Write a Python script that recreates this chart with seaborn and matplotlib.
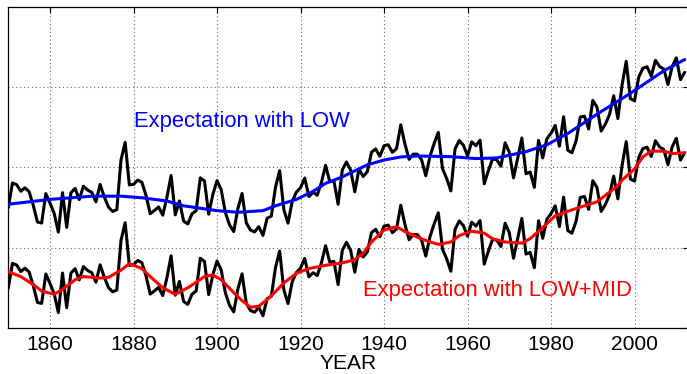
import numpy as np
import pandas as pd
import matplotlib
matplotlib.use("Agg")
import matplotlib.pyplot as plt
import seaborn as sns

# Annual global temperature anomaly, 1850-2012 (deg C)
years = np.arange(1850, 2013)
anomaly = [
    -0.373, -0.218, -0.228, -0.269, -0.248, -0.272, -0.358, -0.461, -0.467, -0.284,  # 1850s
    -0.343, -0.407, -0.524, -0.278, -0.494, -0.279, -0.251, -0.321, -0.238, -0.262,  # 1860s
    -0.276, -0.335, -0.227, -0.304, -0.368, -0.395, -0.384, -0.075, 0.035, -0.230,   # 1870s
    -0.227, -0.200, -0.213, -0.296, -0.409, -0.389, -0.367, -0.418, -0.307, -0.171,  # 1880s
    -0.416, -0.330, -0.455, -0.473, -0.410, -0.390, -0.186, -0.206, -0.412, -0.289,  # 1890s
    -0.203, -0.259, -0.402, -0.479, -0.520, -0.377, -0.283, -0.465, -0.511, -0.522,  # 1900s
    -0.490, -0.544, -0.437, -0.424, -0.244, -0.141, -0.383, -0.468, -0.333, -0.275,  # 1910s
    -0.247, -0.187, -0.302, -0.276, -0.294, -0.215, -0.108, -0.210, -0.206, -0.350,  # 1920s
    -0.137, -0.087, -0.137, -0.273, -0.131, -0.178, -0.147, -0.026, -0.006, -0.052,  # 1930s
    0.014, 0.020, -0.027, -0.004, 0.144, 0.025, -0.071, -0.038, -0.039, -0.074,      # 1940s
    -0.173, -0.052, 0.028, 0.097, -0.129, -0.190, -0.267, -0.007, 0.046, 0.017,      # 1950s
    -0.049, 0.038, 0.014, 0.048, -0.223, -0.140, -0.068, -0.074, -0.113, 0.032,      # 1960s
    -0.027, -0.186, -0.065, 0.062, -0.160, -0.150, -0.245, 0.047, -0.062, 0.057,     # 1970s
    0.092, 0.140, 0.011, 0.194, -0.014, -0.030, 0.045, 0.192, 0.198, 0.118,          # 1980s
    0.296, 0.254, 0.105, 0.148, 0.208, 0.325, 0.183, 0.390, 0.539, 0.306,            # 1990s
    0.294, 0.441, 0.496, 0.505, 0.447, 0.545, 0.506, 0.491, 0.395, 0.506,            # 2000s
    0.560, 0.425, 0.470,                                                             # 2010-2012
]

# Expected curve from the low-frequency component
low_years = [1850, 1855, 1860, 1865, 1870, 1877, 1882, 1888, 1892, 1896, 1900,
             1905, 1911, 1914, 1919, 1923, 1926, 1930, 1936, 1940, 1944, 1948,
             1956, 1962, 1967, 1974, 1979, 1984, 1991, 1999, 2007, 2012]
low_fit = [-0.35, -0.335, -0.32, -0.31, -0.30, -0.30, -0.31, -0.33, -0.36, -0.375, -0.39,
           -0.40, -0.39, -0.36, -0.32, -0.27, -0.22, -0.18, -0.105, -0.075, -0.056, -0.05,
           -0.054, -0.066, -0.062, -0.023, 0.02, 0.09, 0.21, 0.34, 0.48, 0.55]

# Expected curve from the low + mid frequency components
lowmid_years = [1850, 1853, 1856, 1858, 1861, 1863, 1866, 1868, 1872, 1874, 1877,
                1879, 1882, 1884, 1887, 1890, 1893, 1897, 1899, 1901, 1904, 1906,
                1908, 1910, 1913, 1916, 1919, 1922, 1926, 1930, 1933, 1935, 1937,
                1940, 1943, 1945, 1948, 1951, 1953, 1956, 1958, 1961, 1964, 1966,
                1969, 1973, 1975, 1978, 1981, 1985, 1988, 1991, 1993, 1996, 1997,
                2000, 2002, 2004, 2007, 2009, 2012]
lowmid_fit = [-0.27, -0.30, -0.35, -0.39, -0.41, -0.38, -0.32, -0.30, -0.31, -0.305, -0.26,
              -0.22, -0.25, -0.30, -0.37, -0.41, -0.37, -0.30, -0.29, -0.32, -0.40, -0.45,
              -0.49, -0.485, -0.42, -0.34, -0.28, -0.25, -0.23, -0.215, -0.195, -0.155, -0.085,
              -0.01, 0.01, -0.02, -0.055, -0.085, -0.10, -0.085, -0.045, -0.018, -0.03, -0.065,
              -0.085, -0.092, -0.064, 0.005, 0.078, 0.115, 0.14, 0.165, 0.205, 0.265, 0.30,
              0.37, 0.445, 0.48, 0.48, 0.465, 0.47]

# Vertical offsets that stack the two panels on one axis
upper_shift = 0.12
lower_shift = -0.38

x_ticks = [1860, 1880, 1900, 1920, 1940, 1960, 1980, 2000]
y_ticks = [-1.0, -0.5, 0.0, 0.5, 1.0]

sns.set_style("white")
plt.rcParams["font.family"] = ["Liberation Sans", "DejaVu Sans"]
plt.rcParams["text.color"] = "black"
plt.rcParams["axes.labelcolor"] = "black"
plt.rcParams["xtick.color"] = "black"
plt.rcParams["ytick.color"] = "black"

fig = plt.figure(figsize=(6.87, 3.74), dpi=100)
ax = fig.add_axes([8.25 / 687, 46 / 374, 680.6 / 687, 321.5 / 374])

obs = pd.DataFrame({"year": years, "anom": anomaly})
low = pd.DataFrame({"year": low_years, "fit": low_fit})
lowmid = pd.DataFrame({"year": lowmid_years, "fit": lowmid_fit})

sns.lineplot(x=obs["year"], y=obs["anom"] + upper_shift, color="black", lw=2.2, ax=ax, zorder=3)
sns.lineplot(x=obs["year"], y=obs["anom"] + lower_shift, color="black", lw=2.2, ax=ax, zorder=3)
sns.lineplot(x=low["year"], y=low["fit"] + upper_shift, color="#0000ff", lw=2.2, ax=ax, zorder=4)
sns.lineplot(x=lowmid["year"], y=lowmid["fit"] + lower_shift, color="#ff0000", lw=2.2, ax=ax, zorder=4)

ax.text(1880.1, 0.251, "Expectation with LOW", color="#0000ff", fontsize=15.8,
        ha="left", va="baseline")
ax.text(1935.0, -0.80, "Expectation with LOW+MID", color="#ff0000", fontsize=15.8,
        ha="left", va="baseline")

ax.set_xlim(1850, 2013)
ax.set_ylim(-1.0, 1.0)
ax.set_xticks(x_ticks)
ax.set_xticklabels([str(t) for t in x_ticks])
ax.set_yticks(y_ticks)
ax.set_yticklabels([])
ax.set_xlabel("YEAR", fontsize=15.1, labelpad=0, color="black")
ax.set_ylabel("")

ax.tick_params(axis="both", direction="in", length=4, width=0.8, color="black",
               labelcolor="black", top=True, right=True, labelsize=15.1, pad=5)
ax.grid(True, linestyle=(0, (1, 2.5)), color="#666666", lw=0.8)
ax.set_axisbelow(True)
for s in ax.spines.values():
    s.set_color("black")
    s.set_linewidth(0.9)

fig.savefig("out.png", dpi=100)
